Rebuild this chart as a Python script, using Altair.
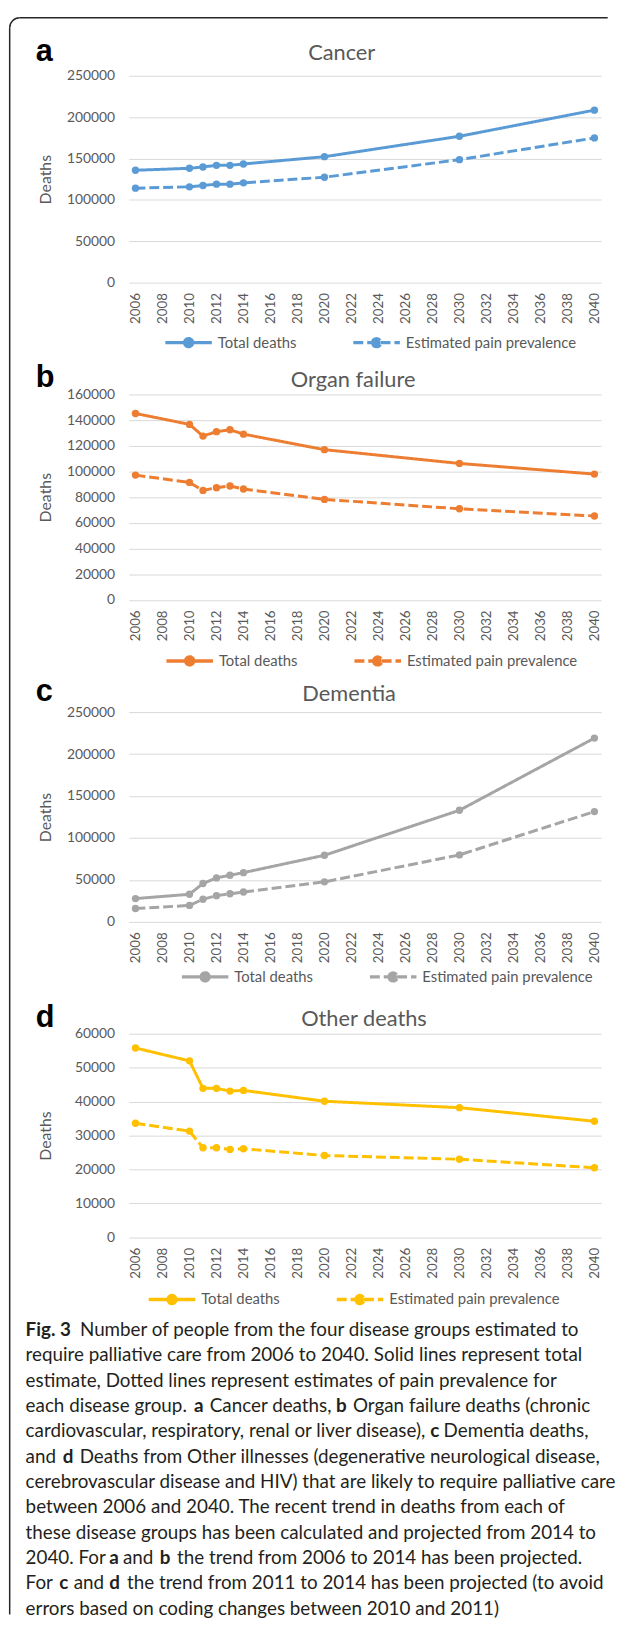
import altair as alt
import pandas as pd

# ---------------- data ----------------
years = [2006, 2010, 2011, 2012, 2013, 2014, 2020, 2030, 2040]
series_names = ["Total deaths", "Estimated pain prevalence"]

cancer_total = [135800, 138200, 139800, 141800, 141800, 143400, 152200, 176900, 208500]
cancer_pain = [114200, 115800, 117400, 119000, 119000, 120600, 127400, 148600, 174900]
organ_total = [145200, 136700, 127600, 131000, 132500, 129100, 117000, 106300, 98000]
organ_pain = [97200, 91500, 85300, 87400, 88700, 86400, 78300, 71000, 65400]
dementia_total = [27800, 32900, 45800, 52400, 55600, 58700, 79400, 133000, 219000]
dementia_pain = [16000, 19600, 27000, 31300, 33600, 35600, 47700, 79800, 131500]
other_total = [55800, 52000, 43900, 43900, 43100, 43300, 40100, 38200, 34200]
other_pain = [33600, 31300, 26400, 26400, 25900, 26100, 24100, 23000, 20500]

panel_letters = ["a", "b", "c", "d"]
panel_titles = ["Cancer", "Organ failure", "Dementia", "Other deaths"]
panel_colors = ["#5B9BD5", "#ED7D31", "#A5A5A5", "#FFC000"]
y_ticks = [
    [0, 50000, 100000, 150000, 200000, 250000],
    [0, 20000, 40000, 60000, 80000, 100000, 120000, 140000, 160000],
    [0, 50000, 100000, 150000, 200000, 250000],
    [0, 10000, 20000, 30000, 40000, 50000, 60000],
]
x_ticks = [2006, 2008, 2010, 2012, 2014, 2016, 2018, 2020, 2022, 2024,
           2026, 2028, 2030, 2032, 2034, 2036, 2038, 2040]

caption_segments = [
    # (line, x, text, bold)
    (0, 25.1, "Fig. 3", True),
    (0, 80.0, "Number of people from the four disease groups estimated to", False),
    (1, 25.1, "require palliative care from 2006 to 2040. Solid lines represent total", False),
    (2, 25.1, "estimate, Dotted lines represent estimates of pain prevalence for", False),
    (3, 25.1, "each disease group.", False),
    (3, 195.3, "a", True),
    (3, 211.2, "Cancer deaths,", False),
    (3, 338.8, "b", True),
    (3, 355.9, "Organ failure deaths (chronic", False),
    (4, 25.1, "cardiovascular, respiratory, renal or liver disease),", False),
    (4, 434.0, "c", True),
    (4, 447.5, "Dementia deaths,", False),
    (5, 25.1, "and", False),
    (5, 62.6, "d", True),
    (5, 79.7, "Deaths from Other illnesses (degenerative neurological disease,", False),
    (6, 25.1, "cerebrovascular disease and HIV) that are likely to require palliative care", False),
    (7, 25.1, "between 2006 and 2040. The recent trend in deaths from each of", False),
    (8, 25.1, "these disease groups has been calculated and projected from 2014 to", False),
    (9, 25.1, "2040. For", False),
    (9, 109.5, "a", True),
    (9, 123.5, "and", False),
    (9, 160.6, "b", True),
    (9, 178.2, "the trend from 2006 to 2014 has been projected.", False),
    (10, 25.1, "For", False),
    (10, 59.0, "c", True),
    (10, 73.7, "and", False),
    (10, 109.6, "d", True),
    (10, 127.5, "the trend from 2011 to 2014 has been projected (to avoid", False),
    (11, 25.1, "errors based on coding changes between 2010 and 2011)", False),
]

# ---------------- layout ----------------
PLOT_LEFT = 129.3
W = 477.4
SPACING = 113
layout = [
    dict(h=209.0, letter_y=-15.3, title_x=215.2, title_y=-16.0, leg_x=35.0, leg_c=267.4),
    dict(h=207.7, letter_y=-8.0, title_x=226.7, title_y=-8.0, leg_x=36.1, leg_c=267.0),
    dict(h=212.0, letter_y=-11.3, title_x=222.7, title_y=-11.3, leg_x=51.7, leg_c=265.3),
    dict(h=205.7, letter_y=-7.0, title_x=237.7, title_y=-7.7, leg_x=18.2, leg_c=266.3),
]
LEG_SYM = 47.0
SYMBOL_PATH = ("M-1,0L-0.17,0M0.17,0L1,0"
               "M-0.17,0A0.17,0.17,0,1,1,0.17,0A0.17,0.17,0,1,1,-0.17,0Z")
BORDER = "#262626"
TEXT_GRAY = "#595959"
CAP_FONT = 19.0
CAP_FIRST = 1342.0
CAP_LINE = 25.6

series_data = [
    (cancer_total, cancer_pain),
    (organ_total, organ_pain),
    (dementia_total, dementia_pain),
    (other_total, other_pain),
]


def make_panel(i):
    total, pain = series_data[i]
    L = layout[i]
    c = panel_colors[i]
    df = pd.DataFrame({
        "year": years + years,
        "deaths": total + pain,
        "series": [series_names[0]] * len(years) + [series_names[1]] * len(years),
    })
    ymax = y_ticks[i][-1]
    x = alt.X("year:Q",
              scale=alt.Scale(domain=[2005.5, 2040.5], nice=False, zero=False),
              axis=alt.Axis(values=x_ticks, format="d", labelAngle=270, title=None,
                            grid=False, domain=False, ticks=False, labelPadding=10,
                            labelFlush=False, labelOverlap=False,
                            labelFont="Lato", labelFontSize=13.5, labelColor=TEXT_GRAY))
    y = alt.Y("deaths:Q",
              scale=alt.Scale(domain=[0, ymax], nice=False, zero=True),
              axis=alt.Axis(values=y_ticks[i], format="d", title="Deaths",
                            grid=True, gridColor="#D9D9D9", gridWidth=1,
                            domain=False, ticks=False, labelPadding=14.3,
                            labelFont="Lato", labelFontSize=14, labelColor=TEXT_GRAY,
                            titleFont="Lato", titleFontSize=16, titleFontWeight="normal",
                            titleColor=TEXT_GRAY, titleAngle=270, titleX=-84,
                            titleY=L["h"] / 2, titleAlign="center", titleBaseline="middle"))
    base = alt.Chart(df)
    line = base.mark_line(strokeWidth=3, color=c).encode(
        x=x, y=y,
        strokeDash=alt.StrokeDash(
            "series:N",
            scale=alt.Scale(domain=series_names, range=[[1, 0], [10, 4]]),
            legend=alt.Legend(
                title=None, orient="none", direction="horizontal",
                legendX=L["leg_x"], legendY=L["leg_c"] - LEG_SYM / 2,
                symbolType=SYMBOL_PATH, symbolSize=LEG_SYM * LEG_SYM,
                symbolStrokeWidth=3.5, symbolStrokeColor=c, symbolFillColor=c,
                labelFont="Lato", labelFontSize=15, labelColor=TEXT_GRAY,
                labelOffset=4, columnPadding=50, labelLimit=400, padding=0,
            ),
        ),
    )
    pts = base.mark_point(filled=True, size=55, opacity=1, color=c).encode(x=x, y=y)

    one = pd.DataFrame({"k": [0]})
    title = alt.Chart(one).mark_text(
        text=panel_titles[i], font="Lato", fontSize=22, color=TEXT_GRAY,
        align="center", baseline="alphabetic",
    ).encode(x=alt.value(L["title_x"]), y=alt.value(L["title_y"]))
    letter = alt.Chart(one).mark_text(
        text=panel_letters[i], font="Liberation Sans", fontWeight="bold", fontSize=31,
        color="#000000", align="left", baseline="alphabetic",
    ).encode(x=alt.value(-94), y=alt.value(L["letter_y"]))

    layers = [line, pts, title, letter]
    if i == 0:
        top_rule = alt.Chart(one).mark_rule(color=BORDER, strokeWidth=1.5).encode(
            x=alt.value(-110.3), x2=alt.value(484), y=alt.value(-58.6))
        left_rule = alt.Chart(one).mark_rule(color=BORDER, strokeWidth=1.5).encode(
            x=alt.value(-120.3), y=alt.value(-48.6), y2=alt.value(1555))
        corner = alt.Chart(one).mark_arc(
            radius=10.75, radius2=9.25, theta=4.7124, theta2=6.2832, color=BORDER
        ).encode(x=alt.value(-110.3), y=alt.value(-48.6))
        layers += [top_rule, left_rule, corner]
    return alt.layer(*layers).properties(width=W, height=L["h"])


panels = [make_panel(i) for i in range(4)]

# caption
cap_top = 1242.7 + SPACING
cap_df = pd.DataFrame({
    "px": [s[1] - PLOT_LEFT for s in caption_segments],
    "py": [CAP_FIRST - cap_top + CAP_LINE * s[0] for s in caption_segments],
    "text": [s[2] for s in caption_segments],
    "bold": [s[3] for s in caption_segments],
})
cap_base = alt.Chart(cap_df)
cap_regular = cap_base.mark_text(
    font="Lato", fontSize=CAP_FONT, align="left", baseline="alphabetic", color="#231F20"
).encode(
    x=alt.X("px:Q", scale=None, axis=None),
    y=alt.Y("py:Q", scale=None, axis=None),
    text="text:N",
).transform_filter("!datum.bold")
cap_bold = cap_base.mark_text(
    font="Lato", fontSize=CAP_FONT, fontWeight="bold", align="left", baseline="alphabetic",
    color="#231F20"
).encode(
    x=alt.X("px:Q", scale=None, axis=None),
    y=alt.Y("py:Q", scale=None, axis=None),
    text="text:N",
).transform_filter("datum.bold")
caption = alt.layer(cap_regular, cap_bold).properties(width=W, height=10)

chart = alt.vconcat(*panels, caption, spacing=SPACING, bounds="flush").resolve_scale(
    strokeDash="independent"
).resolve_legend(
    strokeDash="independent"
).properties(
    padding={"top": 0, "left": 0, "right": 0, "bottom": 0}
).configure_view(strokeWidth=0)

chart.save("out.html", embed_options={"renderer": "svg", "actions": False})
